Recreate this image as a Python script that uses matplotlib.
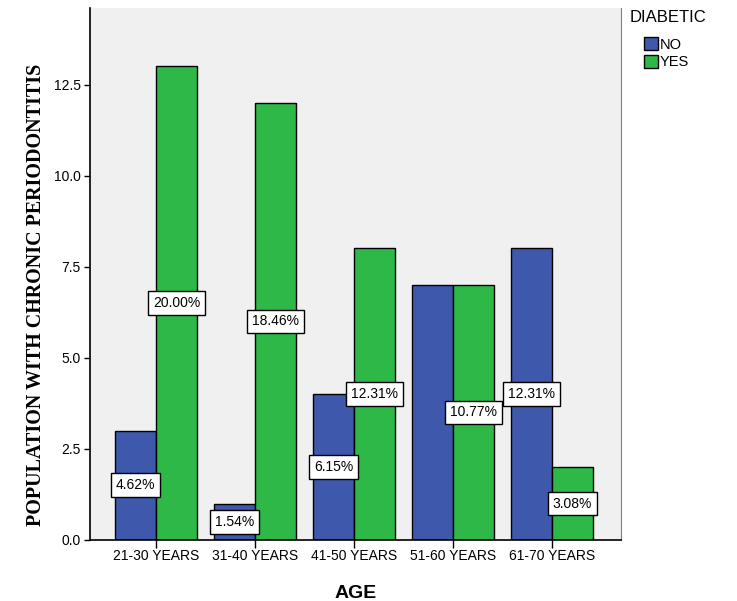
import matplotlib.pyplot as plt
import numpy as np

ages = ['21-30 YEARS', '31-40 YEARS', '41-50 YEARS', '51-60 YEARS', '61-70 YEARS']
no_counts = [3, 1, 4, 7, 8]
yes_counts = [13, 12, 8, 7, 2]
no_pct = ['4.62%', '1.54%', '6.15%', None, '12.31%']   # 51-60 label hidden under the YES one
yes_pct = ['20.00%', '18.46%', '12.31%', '10.77%', '3.08%']

blue = '#3E58AC'
green = '#2EB848'

fig = plt.figure(figsize=(7.37, 6.01), dpi=100)
ax = fig.add_axes([0.1221, 0.1015, 0.8426 - 0.1221, 0.9867 - 0.1015])
ax.set_facecolor('#f0f0f0')

x = np.arange(len(ages))
w = 0.415
b1 = ax.bar(x - w / 2, no_counts, w, color=blue, edgecolor='black', linewidth=1, label='NO')
b2 = ax.bar(x + w / 2, yes_counts, w, color=green, edgecolor='black', linewidth=1, label='YES')

box = dict(boxstyle='square,pad=0.35', facecolor='white', edgecolor='black', linewidth=1)
for i in range(len(ages)):
    if no_pct[i]:
        ax.text(x[i] - w / 2, no_counts[i] / 2, no_pct[i], ha='center', va='center',
                fontsize=10, family='Liberation Sans', bbox=box)
    if yes_pct[i]:
        ax.text(x[i] + w / 2, yes_counts[i] / 2, yes_pct[i], ha='center', va='center',
                fontsize=10, family='Liberation Sans', bbox=box)

ax.set_xlim(-0.67, 4.7)
ax.set_ylim(0, 14.6)
ax.set_yticks([0, 2.5, 5, 7.5, 10, 12.5])
ax.set_yticklabels(['0.0', '2.5', '5.0', '7.5', '10.0', '12.5'])
ax.set_xticks(x)
ax.set_xticklabels(ages)
ax.tick_params(axis='y', length=4.5, width=1, labelsize=10, direction='out', pad=2)
ax.tick_params(axis='x', length=5.8, width=1, labelsize=10, direction='out', pad=1)
for lab in ax.get_xticklabels() + ax.get_yticklabels():
    lab.set_family('Liberation Sans')

ax.spines['top'].set_visible(False)
ax.spines['right'].set_color('#808080')
ax.spines['left'].set_linewidth(1.2)
ax.spines['bottom'].set_linewidth(1.2)

ax.set_xlabel('AGE', fontsize=14, fontweight='bold', family='Liberation Sans')
ax.xaxis.set_label_coords(0.5, -0.085)
ax.set_ylabel('POPULATION WITH CHRONIC PERIODONTITIS', fontsize=14.4, fontweight='bold',
              family='Liberation Serif')
ax.yaxis.set_label_coords(-0.082, 0.46)

fig.text(630 / 737, 1 - 18 / 601, 'DIABETIC', fontsize=12, family='Liberation Sans',
         ha='left', va='center')
fig.legend(handles=[b1, b2], labels=['NO', 'YES'], loc='upper left',
           bbox_to_anchor=(641 / 737, 1 - 34 / 601), frameon=False,
           prop={'family': 'Liberation Sans', 'size': 10.5},
           handlelength=0.95, handleheight=1.05, handletextpad=0.15,
           labelspacing=0.2, borderpad=0.2, borderaxespad=0)

fig.savefig('out.png', dpi=100)
